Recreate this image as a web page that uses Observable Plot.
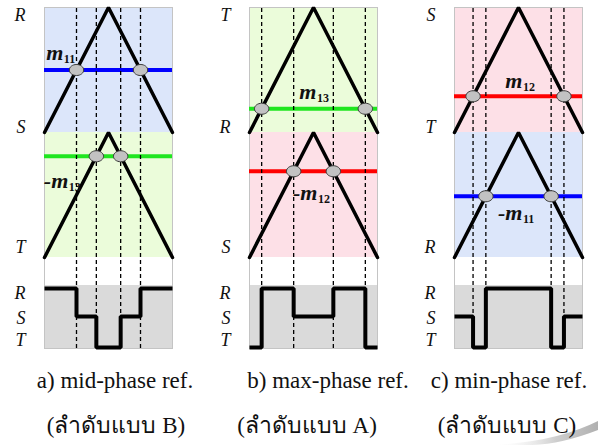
<!DOCTYPE html>
<html><head><meta charset="utf-8">
<script src="https://cdn.jsdelivr.net/npm/d3@7"></script>
<script src="https://cdn.jsdelivr.net/npm/@observablehq/plot@0.6"></script>
<style>
body{margin:0;background:#fff;}
#wrap{position:relative;width:598px;height:445px;overflow:hidden;background:#fff;}
#wrap svg.plot{display:block;position:relative;}
.cap{position:absolute;font-family:"Liberation Serif","DejaVu Serif",serif;font-size:23px;line-height:1;white-space:nowrap;color:#111;transform:translateX(-50%);}
.thai{font-size:23px;}
#swoosh{position:absolute;left:0;top:0;pointer-events:none;}
</style></head><body><div id="wrap"></div>
<script>
// ---- data ----
const panels = ["a", "b", "c"];
const upperPhase = ["R", "T", "S"];
const midPhase = ["S", "R", "T"];
const lowerPhase = ["T", "S", "R"];
const upperRefName = ["11", "13", "12"];
const lowerRefName = ["13", "12", "11"];
const upperRef = [0.50, 0.19, 0.29];   // reference level within upper carrier band (0..1)
const lowerRef = [0.81, 0.69, 0.49];   // reference level within lower carrier band (0..1)
const carrierPhase = [0, 0.5, 1];
const carrierLevel = [0, 1, 0];
const outputLevels = ["R", "S", "T"];
const captions = ["a) mid-phase ref.", "b) max-phase ref.", "c) min-phase ref."];
const thaiCaptions = ["(ลำดับแบบ B)", "(ลำดับแบบ A)", "(ลำดับแบบ C)"];

// ---- styles / layout ----
const refColor = {"11": "#0000ff", "12": "#ff0000", "13": "#1fe61f"};
const bandFill = {"11": "#dce6fa", "12": "#fde0e7", "13": "#ebfcda"};
const grayFill = "#dadada";
const Y = {top: 2, mid: 1, bottom: 0, grayTop: -0.224, grayBottom: -0.728};
const levelY = {R: -0.248, S: -0.472, T: -0.72};
const levelLabelY = {R: -0.288, S: -0.488, T: -0.664};
const upperLabelPos = [[0.147, 1.64], [0.523, 1.328], [0.531, 1.416]];
const lowerLabelPos = [[0.186, 0.616], [0.531, 0.52], [0.531, 0.36]];
const captionX = [115, 328, 509];
const thaiX = [116, 307, 507];

// ---- derived tables ----
const bands = panels.flatMap((p, i) => [
  {panel: p, y1: Y.mid, y2: Y.top, fill: bandFill[upperRefName[i]]},
  {panel: p, y1: Y.bottom, y2: Y.mid, fill: bandFill[lowerRefName[i]]},
  {panel: p, y1: Y.grayBottom, y2: Y.grayTop, fill: grayFill}
]).map(d => ({...d, x1: 0, x2: 1}));

const carriers = panels.flatMap((p, i) => [
  ...carrierPhase.map((x, k) => ({panel: p, band: "u", x, y: Y.mid + carrierLevel[k]})),
  ...carrierPhase.map((x, k) => ({panel: p, band: "l", x, y: Y.bottom + carrierLevel[k]}))
]);

const refs = panels.flatMap((p, i) => [
  {panel: p, y: Y.mid + upperRef[i], color: refColor[upperRefName[i]], x1: 0, x2: 1},
  {panel: p, y: Y.bottom + lowerRef[i], color: refColor[lowerRefName[i]], x1: 0, x2: 1}
]);

// intersections of reference with the triangular carrier
const crossings = panels.flatMap((p, i) => {
  const u = upperRef[i], l = lowerRef[i];
  return [
    {panel: p, x: u / 2, y: Y.mid + u},
    {panel: p, x: l / 2, y: Y.bottom + l},
    {panel: p, x: 1 - l / 2, y: Y.bottom + l},
    {panel: p, x: 1 - u / 2, y: Y.mid + u}
  ];
});

const wave = panels.flatMap((p, i) => {
  const u = upperRef[i], l = lowerRef[i];
  const seq = [
    [0, upperPhase[i]], [u / 2, midPhase[i]], [l / 2, lowerPhase[i]],
    [1 - l / 2, midPhase[i]], [1 - u / 2, upperPhase[i]], [1, upperPhase[i]]
  ];
  return seq.map(([x, ph]) => ({panel: p, x, y: levelY[ph]}));
});

const topLabels = panels.map((p, i) => ({panel: p, x: 0, y: Y.top, t: upperPhase[i]}));
const midLabels = panels.map((p, i) => ({panel: p, x: 0, y: Y.mid, t: midPhase[i]}));
const botLabels = panels.map((p, i) => ({panel: p, x: 0, y: Y.bottom, t: lowerPhase[i]}));
const levelLabels = panels.flatMap(p => outputLevels.map(t => ({panel: p, x: 0, y: levelLabelY[t], t})));

const mLabels = panels.flatMap((p, i) => [
  {panel: p, x: upperLabelPos[i][0], y: upperLabelPos[i][1], m: "m", sub: upperRefName[i]},
  {panel: p, x: lowerLabelPos[i][0], y: lowerLabelPos[i][1], m: "-m", sub: lowerRefName[i]}
]);

const ellipse = {
  draw(ctx, size) {
    const r = Math.sqrt(size / Math.PI), rx = r * 1.2, ry = r * 0.92, k = 0.5523;
    ctx.moveTo(rx, 0);
    ctx.bezierCurveTo(rx, ry * k, rx * k, ry, 0, ry);
    ctx.bezierCurveTo(-rx * k, ry, -rx, ry * k, -rx, 0);
    ctx.bezierCurveTo(-rx, -ry * k, -rx * k, -ry, 0, -ry);
    ctx.bezierCurveTo(rx * k, -ry, rx, -ry * k, rx, 0);
    ctx.closePath();
  }
};

const serif = "'Liberation Serif', 'DejaVu Serif', serif";
const phaseText = {fx: "panel", x: "x", y: "y", text: "t", textAnchor: "end", dx: -19,
  fontFamily: serif, fontStyle: "italic", fontSize: 18, fill: "#111"};

const chart = Plot.plot({
  width: 598, height: 352,
  marginTop: 7, marginBottom: 4, marginLeft: 43, marginRight: 15,
  fx: {domain: panels, paddingInner: 0.377, paddingOuter: 0, axis: null},
  x: {domain: [0, 1], axis: null},
  y: {domain: [Y.grayBottom, Y.top], axis: null},
  color: {type: "identity"},
  marks: [
    Plot.rect(bands, {fx: "panel", x1: "x1", x2: "x2", y1: "y1", y2: "y2", fill: "fill"}),
    Plot.frame({stroke: "#c4c4c4", strokeWidth: 1}),
    Plot.ruleY(refs, {fx: "panel", y: "y", x1: "x1", x2: "x2", stroke: "color", strokeWidth: 4}),
    Plot.ruleX(crossings, {fx: "panel", x: "x", y1: Y.grayBottom, y2: Y.top, stroke: "#000",
      strokeWidth: 1.3, strokeDasharray: "4,3"}),
    Plot.line(carriers, {fx: "panel", x: "x", y: "y", z: "band", stroke: "#000",
      strokeWidth: 3.5, strokeLinejoin: "miter"}),
    Plot.line(wave, {fx: "panel", x: "x", y: "y", curve: "step-after", stroke: "#000",
      strokeWidth: 4, strokeLinejoin: "miter", strokeLinecap: "butt"}),
    Plot.dot(crossings, {fx: "panel", x: "x", y: "y", r: 6, symbol: ellipse,
      fill: "#c2c2c2", stroke: "#3a3a3a", strokeWidth: 1}),
    Plot.text(topLabels, {...phaseText, dy: 8}),
    Plot.text(midLabels, {...phaseText, dy: -5}),
    Plot.text(botLabels, {...phaseText, dy: -10}),
    Plot.text(levelLabels, phaseText),
    Plot.text(mLabels, {fx: "panel", x: "x", y: "y", text: "m", textAnchor: "end",
      fontFamily: serif, fontStyle: "italic", fontWeight: "bold", fontSize: 22, fill: "#111"}),
    Plot.text(mLabels, {fx: "panel", x: "x", y: "y", text: "sub", textAnchor: "start", dy: 7, dx: 0.5,
      fontFamily: serif, fontWeight: "bold", fontSize: 12, fill: "#111"})
  ]
});
chart.classList.add("plot");
const wrap = document.getElementById("wrap");

// decorative page-curl shade in the bottom-right corner (behind the text)
const ns = "http://www.w3.org/2000/svg";
const sw = document.createElementNS(ns, "svg");
sw.setAttribute("id", "swoosh"); sw.setAttribute("width", 598); sw.setAttribute("height", 445);
sw.innerHTML = '<defs><linearGradient id="gs" x1="0" y1="0" x2="1" y2="0">' +
  '<stop offset="0" stop-color="#fff" stop-opacity="0"/><stop offset="0.6" stop-color="#cfcfcf"/>' +
  '<stop offset="1" stop-color="#b0b0b0"/></linearGradient></defs>' +
  '<path d="M492,445 Q556,442 598,421 L598,430 Q562,444 532,445 Z" fill="url(#gs)"/>';
wrap.appendChild(sw);
wrap.appendChild(chart);

captions.forEach((c, i) => {
  const d = document.createElement("div");
  d.className = "cap"; d.textContent = c;
  d.style.left = captionX[i] + "px"; d.style.top = "369px";
  wrap.appendChild(d);
});
thaiCaptions.forEach((c, i) => {
  const d = document.createElement("div");
  d.className = "cap thai"; d.textContent = c;
  d.style.left = thaiX[i] + "px"; d.style.top = "414px";
  wrap.appendChild(d);
});
</script></body></html>
